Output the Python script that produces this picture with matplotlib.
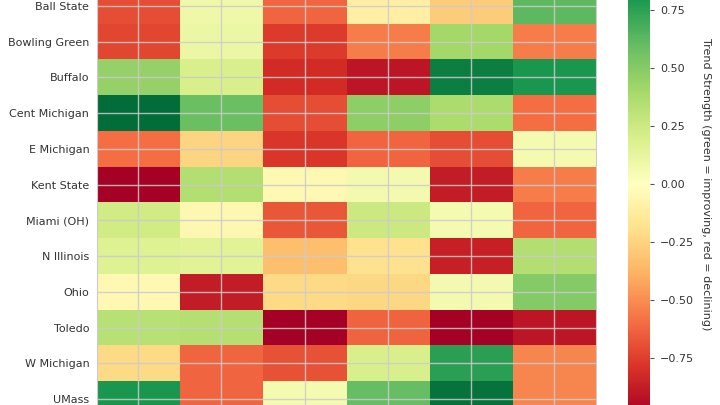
import matplotlib
matplotlib.use("Agg")
import matplotlib.pyplot as plt
import numpy as np

teams = ["Ball State", "Bowling Green", "Buffalo", "Cent Michigan", "E Michigan",
         "Kent State", "Miami (OH)", "N Illinois", "Ohio", "Toledo",
         "W Michigan", "UMass"]

# trend strength per column (one list per column, rows follow `teams`)
col_1 = [-0.70, -0.72, 0.45, 0.97, -0.60, -1.00, 0.23, 0.17, -0.04, 0.33, -0.22, 0.80]
col_2 = [0.08, 0.10, 0.20, 0.58, -0.25, 0.35, -0.05, 0.15, -0.88, 0.34, -0.62, -0.62]
col_3 = [-0.62, -0.76, -0.82, -0.70, -0.78, -0.04, -0.67, -0.33, -0.22, -1.00, -0.68, 0.05]
col_4 = [-0.10, -0.55, -0.90, 0.47, -0.62, 0.06, 0.25, -0.18, -0.23, -0.63, 0.20, 0.60]
col_5 = [-0.28, 0.40, 0.90, 0.37, -0.70, -0.88, 0.05, -0.86, 0.06, -1.00, 0.75, 0.95]
col_6 = [0.62, -0.55, 0.80, -0.60, 0.05, -0.55, -0.62, 0.35, 0.50, -0.90, -0.52, -0.52]

TEXT = "#333333"

trend = np.column_stack([col_1, col_2, col_3, col_4, col_5, col_6])

fig = plt.figure(figsize=(7.2, 4.05), dpi=100)

# the view is a crop of a taller figure, so the axes run past the edges
ax = fig.add_axes([96.7 / 720, -12 / 405, 499 / 720, 429 / 405])
im = ax.imshow(trend, cmap="RdYlGn", vmin=-1, vmax=1, aspect="auto",
               interpolation="nearest")
ax.set_yticks(range(len(teams)))
ax.set_yticklabels(teams, fontsize=8, color=TEXT)
ax.set_xticks(range(trend.shape[1]))
ax.set_xticklabels([])
ax.tick_params(length=0, pad=5.3)
ax.grid(True, color="#cccccc", linewidth=1, alpha=0.85)
ax.set_axisbelow(False)
for s in ax.spines.values():
    s.set_color("#cccccc")

cax = fig.add_axes([627.7 / 720, -11 / 405, 22.5 / 720, 464 / 405])
cbar = fig.colorbar(im, cax=cax)
cbar.outline.set_visible(False)
cbar.set_ticks([-0.75, -0.5, -0.25, 0, 0.25, 0.5, 0.75])
cbar.ax.tick_params(labelsize=8, labelcolor=TEXT, color="#555555", length=3, pad=4)
cbar.set_label("Trend Strength (green = improving, red = declining)",
               rotation=270, labelpad=12, fontsize=8, color=TEXT)

fig.savefig("out.png", dpi=100)
plt.close(fig)
